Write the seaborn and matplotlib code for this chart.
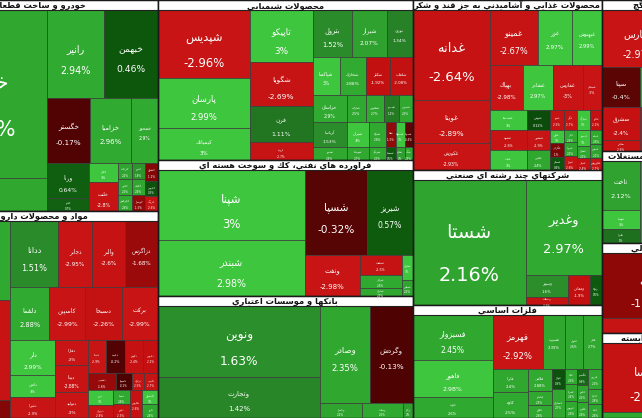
import matplotlib
matplotlib.use('Agg')
import matplotlib.pyplot as plt
from matplotlib.patches import Rectangle
from matplotlib.colors import LinearSegmentedColormap
import seaborn as sns

# leaf = (symbol, market value, change %, optional colour change %)
# 'H' = tiles side by side, 'V' = tiles stacked, 'S' = sector with title
auto_tiles = ('H', [
    ('V', [('خودرو', 21504, 2.37), ('خساپا', 4224, 2.31)]),
    ('V', [
        ('H', [('رانير', 5016, 2.94), ('خبهمن', 4752, 0.46)]),
        ('H', [('خگستر', 2795, -0.17), ('خزاميا', 2665, 2.96), ('خمحور', 1755, 2.90)]),
        ('H', [
            ('V', [('ورنا', 1470, 0.64), ('خفنر', 546, 0.70)]),
            ('V', [('خكار', 551, 3.0), ('خلنت', 841, -2.80)]),
            ('V', [('خريخت', 224, 2.2), ('خاذين', 224, 2.5), ('خچرخش', 224, 2.6)]),
            ('V', [('خمهر', 208, 1.8), ('خكمك', 208, 2.4), ('خوساز', 208, -1.5)]),
            ('V', [('خشرق', 234, -1.2), ('خپارس', 195, 0.3), ('خرينگ', 195, -2.6)]),
        ]),
    ]),
])

pharma_tiles = ('H', [
    ('V', [('دالبر', 7189, 2.5), ('دسبحان', 9100, -2.8), ('دفرا', 1638, -1.2)]),
    ('V', [
        ('H', [('ددانا', 3168, 1.51), ('دجابر', 2244, -2.95), ('والبر', 2178, -2.60), ('دزاگرس', 2178, -1.68)]),
        ('H', [('دلقما', 2067, 2.88), ('كاسپين', 1908, -2.99), ('دسبحا', 1961, -2.26), ('بركت', 1908, -2.99)]),
        ('H', [
            ('V', [('دلر', 1575, 2.99, 3.0), ('دامين', 990, 3.0), ('دشيرا', 945, -2.90)]),
            ('V', [('دفارا', 800, -3.0), ('ديبنا', 864, -2.88), ('دتوليد', 832, -3.0)]),
            ('V', [
                ('H', [('دتماد', 594, -2.9), ('دعبيد', 627, -0.2), ('دكوثر', 594, -2.4), ('دپارس', 495, -2.2)]),
                ('H', [('دشيمي', 476, -1.6), ('داسوه', 272, -0.1), ('درازك', 204, -2.5), ('دكيمي', 238, -2.7)]),
                ('H', [
                    ('V', [('دروز', 375, 3.0), ('دتهران', 325, -2.8)]),
                    ('V', [('دسينا', 238, 2.6), ('دابور', 238, -2.3)]),
                    ('دفارس', 336, -2.6),
                    ('V', [('دكپسول', 224, 3.0), ('دارو', 224, 2.4)]),
                ]),
            ]),
        ]),
    ]),
])

chem_tiles = ('H', [
    ('V', [('شپديس', 6256, -2.96), ('پارسان', 4600, 2.99), ('كيمياتك', 2944, 3.0)]),
    ('V', [('تاپيكو', 3276, 3.0), ('شگويا', 2772, -2.69), ('فرن', 2268, 1.11), ('اروند', 1134, -2.7)]),
    ('V', [
        ('H', [('بترول', 1833, 1.52), ('شيراز', 1645, 2.07), ('نوري', 1222, 1.34)]),
        ('H', [('شپاكسا', 1026, 3.0), ('شخارك', 988, 2.88), ('شكلر', 912, -1.92), ('شلعاب', 874, -2.08)]),
        ('H', [('خراسان', 918, 2.90), ('شاراك', 513, 2.5), ('شفارس', 486, 2.7), ('شبصير', 405, 1.2), ('شدوص', 378, 2.3)]),
        ('H', [('آرياسا', 850, 1.53), ('شيران', 550, 3.0), ('شتوكا', 425, 2.6), ('شفا', 250, -1.5),
               ('شصفها', 225, 3.0), ('شمواد', 200, -0.4)]),
        ('H', [('شپترو', 442, 2.4), ('شوينده', 286, 2.7), ('شرنگي', 221, 2.5), ('شسينا', 130, 0.5),
               ('شجم', 117, 2.0), ('شنگ', 104, 2.3)]),
    ]),
])

petro_tiles = ('H', [
    ('V', [('شپنا', 10143, 3.0), ('شبندر', 8232, 2.98)]),
    ('V', [
        ('H', [('شسپا', 5208, -0.32), ('شبريز', 3864, 0.57)]),
        ('H', [('ونفت', 2255, -2.98),
               ('V', [('شنفت', 840, -2.5), ('شرانل', 546, 2.6), ('شتران', 336, 2.3)]),
               ('V', [('شاوان', 275, 3.0), ('شپاس', 176, 2.2)])]),
    ]),
])

bank_tiles = ('H', [
    ('V', [('ونوين', 11502, 1.63), ('وتجارت', 6642, 1.42)]),
    ('V', [
        ('H', [('وصادر', 4850, 2.35), ('وگردش', 4171, -0.13)]),
        ('H', [('وپاسار', 630, 2.2), ('وبملت', 615, 2.5), ('وكار', 150, 2.0)]),
    ]),
])

food_tiles = ('H', [
    ('V', [('غدانه', 6930, -2.64), ('غويتا', 3311, -2.89), ('غكورش', 2079, -2.93)]),
    ('V', [
        ('H', [('غمينو', 2640, -2.67), ('غزر', 1870, 2.97, 3.0), ('غبهنوش', 1650, 2.99)]),
        ('H', [('بهپاك', 1485, -2.98), ('غشاذر', 1350, 2.97, 3.0), ('غفارس', 1350, -3.0), ('غسالم', 855, -3.0)]),
        ('H', [('غشصفا', 740, 3.0), ('غنوش', 460, 0.12), ('غپينو', 280, -2.5), ('غگل', 260, -2.7),
               ('غمارگ', 260, 3.0), ('غالبر', 240, -2.2)]),
        ('H', [
            ('V', [('غشهد', 740, -2.8), ('غپاك', 740, 3.0)]),
            ('V', [('غبشهر', 460, -2.9), ('غچين', 460, 2.4)]),
            ('V', [('غدام', 182, 3.0), ('غگرجي', 196, -1.0), ('غسحر', 182, 0.4)]),
            ('V', [('غاذر', 156, 2.5), ('غمهرا', 182, 2.2), ('غبهار', 182, -2.6)]),
            ('V', [('غصينو', 208, 3.0), ('غشان', 156, 2.5), ('غنيلي', 156, -2.4)]),
            ('V', [('غمايه', 168, 2.6), ('غديس', 168, 2.1), ('غكوروش', 144, -2.7)]),
        ]),
    ]),
])

multi_tiles = ('H', [
    ('شستا', 14125, 2.16),
    ('V', [
        ('وغدير', 7220, 2.97),
        ('H', [('V', [('وسپهر', 924, 1.6), ('وصنعت', 336, -2.5)]), ('ومعادن', 660, -1.9), ('وتوكا', 360, 0.5)]),
    ]),
])

metal_tiles = ('H', [
    ('V', [('فسبزوار', 3600, 2.45), ('فاهور', 2960, 2.98), ('ذوب', 1680, 2.6)]),
    ('V', [
        ('H', [('فهرمز', 2700, -2.92), ('فسرب', 1188, 2.39), ('فنوال', 972, 2.6), ('فجر', 1026, 2.7)]),
        ('H', [
            ('V', [('فايرا', 805, 2.4), ('كاوه', 910, 2.5)]),
            ('V', [('فلامي', 528, 2.88), ('فباهنر', 336, 2.3), ('فجام', 312, 2.6)]),
            ('V', [('فولاژ', 260, 0.3), ('فسازان', 377, 2.7)]),
            ('V', [('فاما', 180, 2.5), ('فمراد', 204, 2.4), ('فروس', 204, 2.6)]),
            ('V', [('فگستر', 176, 0.8), ('فخوز', 187, 2.2), ('فكوير', 176, 2.6)]),
            ('V', [('فزرين', 280, 2.5), ('فافزا', 210, 2.8), ('فپنتا', 196, 2.4)]),
        ]),
    ]),
])

cement_tiles = ('V', [
    ('H', [('سفارس', 4332, -2.97), ('ساروم', 3249, -2.5)]),
    ('H', [
        ('V', [('سپتا', 1520, -0.40), ('سشرق', 1254, -2.40), ('سخزر', 418, -2.6)]),
        ('V', [('سكرما', 3800, 2.5), ('ستران', 4180, -2.0)]),
    ]),
])

estate_tiles = ('H', [
    ('V', [('ثاخت', 1862, 2.12), ('ثنوسا', 722, 3.0), ('ثعمرا', 532, 1.0)]),
    ('وساخت', 7790, 1.8),
])

finance_tiles = ('H', [
    ('V', [('وآتي', 6240, -1.42), ('ولكار', 1440, -2.7)]),
    ('ونيكي', 2960, -1.0),
])

agri_tiles = ('V', [
    ('H', [('زمگسا', 6624, -2.52), ('زكوثر', 2553, -1.5)]),
    ('زپارس', 798, 2.5),
])

market = ('H', [
    ('V', [('S', 'خودرو و ساخت قطعات', auto_tiles),
           ('S', 'مواد و محصولات دارويي', pharma_tiles)]),
    ('V', [('S', 'محصولات شيميايي', chem_tiles),
           ('S', 'فراورده هاي نفتي، كك و سوخت هسته اي', petro_tiles),
           ('S', 'بانكها و موسسات اعتباري', bank_tiles)]),
    ('V', [('S', 'محصولات غذايي و آشاميدني به جز قند و شكر', food_tiles),
           ('S', 'شركتهاي چند رشته اي صنعتي', multi_tiles),
           ('S', 'فلزات اساسي', metal_tiles)]),
    ('V', [('S', 'سيمان، آهك و گچ', cement_tiles),
           ('S', 'انبوه سازي، املاك و مستغلات', estate_tiles),
           ('S', 'ساير واسطه مالي', finance_tiles),
           ('S', 'زراعت و خدمات وابسته', agri_tiles)]),
])

# canvas of the whole map and the part of it that is shown
CANVAS_W, CANVAS_H = 816, 418
VIEW_X = 81
HEAD = 10

# ---- simple arabic shaping (matplotlib has no bidi / joining) ----
DUAL = {'ب': 0xFE8F, 'ت': 0xFE95, 'ث': 0xFE99, 'ج': 0xFE9D, 'ح': 0xFEA1, 'خ': 0xFEA5,
        'س': 0xFEB1, 'ش': 0xFEB5, 'ص': 0xFEB9, 'ض': 0xFEBD, 'ط': 0xFEC1, 'ظ': 0xFEC5,
        'ع': 0xFEC9, 'غ': 0xFECD, 'ف': 0xFED1, 'ق': 0xFED5, 'ك': 0xFED9, 'ل': 0xFEDD,
        'م': 0xFEE1, 'ن': 0xFEE5, 'ه': 0xFEE9, 'ي': 0xFEF1, 'ئ': 0xFE89,
        'پ': 0xFB56, 'چ': 0xFB7A, 'ک': 0xFB8E, 'گ': 0xFB92, 'ی': 0xFBFC}
RIGHT = {'ا': 0xFE8D, 'آ': 0xFE81, 'أ': 0xFE83, 'إ': 0xFE87, 'د': 0xFEA9, 'ذ': 0xFEAB,
         'ر': 0xFEAD, 'ز': 0xFEAF, 'و': 0xFEED, 'ة': 0xFE93, 'ژ': 0xFB8A, 'ى': 0xFEEF}
LAMALEF = {'ا': 0xFEFB, 'آ': 0xFEF5, 'أ': 0xFEF7, 'إ': 0xFEF9}


def shape(text):
    out = []
    i = 0
    while i < len(text):
        c = text[i]
        prev = text[i - 1] if i > 0 else ''
        nxt = text[i + 1] if i + 1 < len(text) else ''
        cprev = prev in DUAL
        if c == 'ل' and nxt in LAMALEF:
            out.append(chr(LAMALEF[nxt] + (1 if cprev else 0)))
            i += 2
            continue
        if c in DUAL:
            cnext = nxt in DUAL or nxt in RIGHT
            off = 3 if (cprev and cnext) else 1 if cprev else 2 if cnext else 0
            out.append(chr(DUAL[c] + off))
        elif c in RIGHT:
            out.append(chr(RIGHT[c] + (1 if cprev else 0)))
        elif c != '\u200c':
            out.append(c)
        i += 1
    return ''.join(reversed(out))


# ---- slice treemap layout ----
def total(node):
    if node[0] in ('H', 'V'):
        return sum(total(c) for c in node[1])
    if node[0] == 'S':
        return total(node[2])
    return node[1]


def fixed(node):
    if node[0] == 'S':
        return HEAD
    if node[0] == 'V':
        return sum(fixed(c) for c in node[1])
    if node[0] == 'H':
        return max(fixed(c) for c in node[1])
    return 0


tiles, heads = [], []


def layout(node, x, y, w, h):
    kind = node[0]
    if kind == 'S':
        heads.append((node[1], x, y, w, h))
        layout(node[2], x, y + HEAD, w, h - HEAD)
    elif kind == 'V':
        kids = node[1]
        avail = h - sum(fixed(c) for c in kids)
        s = sum(total(c) for c in kids)
        for c in kids:
            ch = fixed(c) + avail * total(c) / s
            layout(c, x, y, w, ch)
            y += ch
    elif kind == 'H':
        kids = node[1]
        wts = [total(c) / (h - fixed(c)) for c in kids]
        for c, wt in zip(kids, wts):
            cw = w * wt / sum(wts)
            layout(c, x, y, cw, h)
            x += cw
    else:
        tiles.append((node, x, y, w, h))


layout(market, 0, 0, CANVAS_W, CANVAS_H)

# colour scale: change % -> colour
anchors = [(-3.0, '#c81414'), (-1.9, '#c20f0f'), (-1.7, '#9c0a0a'), (-1.0, '#7a0606'),
           (-0.4, '#5a0505'), (-0.001, '#4a0000'), (0.001, '#0a470a'), (0.6, '#0e5c0e'),
           (1.1, '#227522'), (1.5, '#2a8a2a'), (2.0, '#2e9e2e'), (2.3, '#30a830'),
           (2.99, '#31aa31'), (3.0, '#3ec63e')]
cmap = LinearSegmentedColormap.from_list('tse', [((v + 3) / 6, c) for v, c in anchors])

sns.set_theme(style='white')
plt.rcParams['font.family'] = ['DejaVu Sans']

fig = plt.figure(figsize=(6.42, 4.18), dpi=100)
ax = fig.add_axes([0, 0, 1, 1])
ax.set_xlim(VIEW_X, VIEW_X + 642)
ax.set_ylim(CANVAS_H, 0)
ax.axis('off')

PT = 0.72  # px -> pt at 100 dpi


def pct_text(v):
    return ('%.2f' % v).rstrip('0').rstrip('.') + '%'


for leaf, x, y, w, h in tiles:
    name, value, chg = leaf[0], leaf[1], leaf[2]
    col = leaf[3] if len(leaf) > 3 else chg
    rect = Rectangle((x, y), w, h, facecolor=cmap((col + 3) / 6), edgecolor='#3a3a3a', lw=0.5)
    ax.add_patch(rect)
    label = pct_text(chg)
    fs = min(0.17 * min(w, h), 0.9 * w / (0.6 * max(len(name), len(label))), 21)
    fs = max(fs, 2.8)
    cx, cy = x + w / 2, y + h / 2
    for txt, ty in ((shape(name), cy - 0.5 * fs), (label, cy + 1.7 * fs)):
        t = ax.text(cx, ty, txt, fontsize=fs * PT, color='white', ha='center', va='center')
        t.set_clip_path(rect)

for title, x, y, w, h in heads:
    ax.add_patch(Rectangle((x, y), w, HEAD, facecolor='white', edgecolor='#222222', lw=0.8))
    ax.add_patch(Rectangle((x, y), w, h, facecolor='none', edgecolor='#1a1a1a', lw=1.0))
    ax.text(x + w / 2, y + HEAD / 2 + 0.3, shape(title), fontsize=6, fontweight='bold',
            color='#111111', ha='center', va='center')

fig.savefig('out.png', dpi=100)
